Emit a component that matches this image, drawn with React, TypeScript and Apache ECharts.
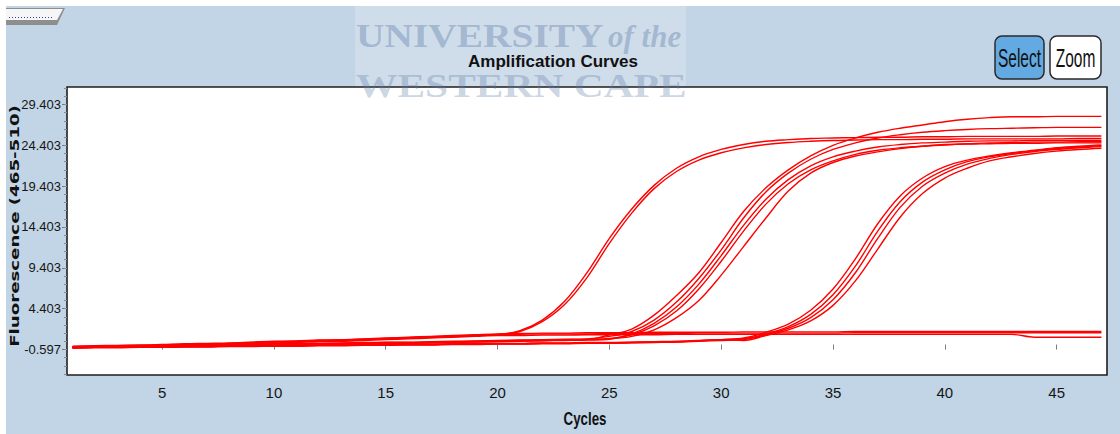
import React, { useEffect, useRef } from "react";
import * as echarts from "echarts";

// ---------- data ----------
const cycles = [1, 2, 3, 4, 5, 6, 7, 8, 9, 10, 11, 12, 13, 14, 15, 16, 17, 18, 19, 20, 21, 22, 23, 24, 25, 26, 27, 28, 29, 30, 31, 32, 33, 34, 35, 36, 37, 38, 39, 40, 41, 42, 43, 44, 45, 46, 47];
const xTickValues = [5, 10, 15, 20, 25, 30, 35, 40, 45];
const yTickValues = [-0.597, 4.403, 9.403, 14.403, 19.403, 24.403, 29.403];

// Group A (earliest)
const curveA1 = [-0.3, -0.25, -0.2, -0.15, -0.1, 0.0, 0.05, 0.1, 0.2, 0.3, 0.35, 0.45, 0.5, 0.6, 0.7, 0.8, 0.9, 1.0, 1.1, 1.2,
  1.7, 3.0, 5.3, 8.8, 13.0, 16.6, 19.5, 21.6, 23.0, 23.9, 24.5, 24.9, 25.1, 25.25, 25.3, 25.35, 25.4, 25.4, 25.45, 25.45, 25.5, 25.5, 25.5, 25.5, 25.55, 25.55, 25.55];
const curveA2 = [-0.25, -0.2, -0.15, -0.1, -0.05, 0.05, 0.1, 0.15, 0.25, 0.35, 0.4, 0.5, 0.55, 0.65, 0.75, 0.85, 0.95, 1.05, 1.15, 1.25,
  1.6, 2.8, 4.9, 8.2, 12.4, 16.1, 19.1, 21.2, 22.6, 23.5, 24.1, 24.5, 24.75, 24.9, 25.0, 25.05, 25.1, 25.1, 25.15, 25.15, 25.2, 25.2, 25.2, 25.2, 25.2, 25.25, 25.25];

// Group B (middle)
const curveB1 = [-0.35, -0.3, -0.3, -0.25, -0.2, -0.2, -0.15, -0.1, -0.05, 0.0, 0.0, 0.05, 0.1, 0.15, 0.2, 0.2, 0.25, 0.3, 0.35, 0.4, 0.45, 0.5, 0.55, 0.6,
  1.2, 1.9, 3.6, 6.0, 8.8, 12.5, 16.3, 19.2, 21.4, 23.1, 24.4, 25.3, 26.0, 26.5, 26.9, 27.3, 27.6, 27.8, 27.9, 27.9, 27.95, 27.95, 27.95];
const curveB2 = [-0.25, -0.2, -0.2, -0.15, -0.1, -0.1, -0.05, 0.0, 0.05, 0.1, 0.1, 0.15, 0.2, 0.25, 0.3, 0.3, 0.35, 0.4, 0.45, 0.5, 0.55, 0.6, 0.65, 0.7,
  1.0, 1.6, 3.0, 5.2, 8.1, 11.6, 15.5, 18.7, 21.0, 22.7, 23.9, 24.7, 25.3, 25.7, 26.0, 26.2, 26.35, 26.45, 26.5, 26.55, 26.6, 26.6, 26.6];
const curveB3 = [-0.4, -0.35, -0.35, -0.3, -0.25, -0.25, -0.2, -0.15, -0.1, -0.05, -0.05, 0.0, 0.05, 0.1, 0.15, 0.15, 0.2, 0.25, 0.3, 0.35, 0.4, 0.45, 0.5, 0.55, 0.65,
  1.3, 2.6, 4.6, 7.4, 10.9, 14.6, 17.8, 20.2, 21.9, 23.0, 23.7, 24.2, 24.5, 24.7, 24.8, 24.9, 24.95, 24.95, 25.0, 25.0, 25.0, 25.0];
const curveB4 = [-0.3, -0.25, -0.25, -0.2, -0.15, -0.15, -0.1, -0.05, 0.0, 0.05, 0.05, 0.1, 0.15, 0.2, 0.25, 0.25, 0.3, 0.35, 0.4, 0.45, 0.5, 0.55, 0.6, 0.65, 0.75,
  1.2, 2.3, 4.1, 6.8, 10.2, 13.9, 17.2, 19.7, 21.4, 22.5, 23.3, 23.8, 24.1, 24.3, 24.45, 24.55, 24.6, 24.65, 24.65, 24.7, 24.7, 24.7];
const curveB5 = [-0.35, -0.3, -0.3, -0.25, -0.2, -0.2, -0.15, -0.1, -0.05, 0.0, 0.0, 0.05, 0.1, 0.15, 0.2, 0.2, 0.25, 0.3, 0.35, 0.4, 0.45, 0.5, 0.55, 0.6, 0.7,
  1.0, 1.8, 3.3, 5.4, 8.5, 12.0, 15.5, 18.8, 21.0, 22.3, 23.1, 23.6, 24.0, 24.3, 24.5, 24.6, 24.7, 24.75, 24.8, 24.8, 24.85, 24.85];

// Group C (latest)
const curveC1 = [-0.4, -0.35, -0.35, -0.3, -0.3, -0.25, -0.25, -0.2, -0.2, -0.15, -0.15, -0.1, -0.1, -0.05, -0.05, 0.0, 0.0, 0.05, 0.05, 0.1, 0.1, 0.15, 0.15, 0.2, 0.2, 0.25, 0.3, 0.35, 0.45, 0.6,
  0.8, 1.5, 2.5, 4.2, 6.8, 10.5, 14.8, 18.2, 20.4, 21.8, 22.6, 23.1, 23.5, 23.8, 24.1, 24.3, 24.45];
const curveC2 = [-0.35, -0.3, -0.3, -0.25, -0.25, -0.2, -0.2, -0.15, -0.15, -0.1, -0.1, -0.05, -0.05, 0.0, 0.0, 0.05, 0.05, 0.1, 0.1, 0.15, 0.15, 0.2, 0.2, 0.25, 0.25, 0.3, 0.35, 0.4, 0.5, 0.6,
  0.7, 1.3, 2.2, 3.7, 6.1, 9.6, 13.9, 17.5, 19.9, 21.4, 22.4, 23.0, 23.4, 23.75, 24.0, 24.2, 24.35];
const curveC3 = [-0.45, -0.4, -0.4, -0.35, -0.35, -0.3, -0.3, -0.25, -0.25, -0.2, -0.2, -0.15, -0.15, -0.1, -0.1, -0.05, -0.05, 0.0, 0.0, 0.05, 0.05, 0.1, 0.1, 0.15, 0.15, 0.2, 0.25, 0.3, 0.4, 0.5,
  0.6, 1.2, 2.0, 3.3, 5.5, 8.8, 13.0, 16.8, 19.4, 21.0, 22.1, 22.8, 23.3, 23.65, 23.9, 24.1, 24.25];
const curveC4 = [-0.4, -0.35, -0.35, -0.3, -0.3, -0.25, -0.25, -0.2, -0.2, -0.15, -0.15, -0.1, -0.1, -0.05, -0.05, 0.0, 0.0, 0.05, 0.05, 0.1, 0.1, 0.15, 0.15, 0.2, 0.2, 0.25, 0.3, 0.35, 0.45, 0.6,
  0.5, 1.1, 1.8, 2.9, 4.8, 7.8, 11.7, 15.6, 18.5, 20.4, 21.6, 22.5, 23.0, 23.4, 23.7, 23.9, 24.05];

// Flat (no amplification)
const curveF1 = [-0.2, -0.15, -0.1, -0.05, 0.0, 0.1, 0.15, 0.2, 0.3, 0.4, 0.45, 0.55, 0.6, 0.7, 0.8, 0.9, 1.0, 1.1, 1.2, 1.3,
  1.35, 1.4, 1.4, 1.45, 1.45, 1.45, 1.5, 1.5, 1.5, 1.5, 1.55, 1.55, 1.55, 1.55, 1.55, 1.6, 1.6, 1.6, 1.6, 1.6, 1.6, 1.6, 1.6, 1.6, 1.6, 1.6, 1.6];
const curveF2 = [-0.3, -0.25, -0.2, -0.15, -0.1, 0.0, 0.05, 0.1, 0.2, 0.3, 0.35, 0.45, 0.5, 0.6, 0.7, 0.8, 0.9, 1.0, 1.1, 1.2,
  1.25, 1.3, 1.3, 1.3, 1.35, 1.35, 1.35, 1.35, 1.4, 1.4, 1.4, 1.4, 1.4, 1.4, 1.4, 1.45, 1.45, 1.45, 1.45, 1.45, 1.45, 1.45, 1.45, 1.45, 1.45, 1.45, 1.45];
const curveF3 = [-0.4, -0.35, -0.3, -0.25, -0.2, -0.1, -0.05, 0.0, 0.1, 0.2, 0.25, 0.35, 0.4, 0.5, 0.6, 0.7, 0.8, 0.9, 1.0, 1.1,
  1.1, 1.15, 1.15, 1.2, 1.2, 1.2, 1.2, 1.25, 1.25, 1.25, 1.25, 1.25, 1.25, 1.25, 1.25, 1.25, 1.25, 1.25, 1.25, 1.25, 1.25, 1.25, 1.25, 0.9, 0.9, 0.9, 0.9];

const curves = [curveF1, curveF2, curveF3, curveC1, curveC2, curveC3, curveC4, curveB5, curveB4, curveB3, curveB2, curveB1, curveA2, curveA1];

const X_MIN = 0.75;
const X_MAX = 47.25;
const Y_MIN = -3.73;
const Y_MAX = 31.55;

const SANS = '"Liberation Sans", Arial, sans-serif';
const SERIF = '"Liberation Serif", "Times New Roman", serif';
const WM = "#5f7ca8";

export default function App() {
  const ref = useRef<HTMLDivElement>(null);

  useEffect(() => {
    document.body.style.margin = "0";
    if (!ref.current) return;
    const chart = echarts.init(ref.current, null, { renderer: "svg" });

    const minorTicks: number[] = [];
    for (let k = -4; k <= 33; k++) {
      const v = Number((yTickValues[0] + k).toFixed(3));
      if (v > Y_MIN && v < Y_MAX) minorTicks.push(v);
    }

    const series = curves.map((d, i) => ({
      type: "line",
      name: "s" + i,
      data: cycles.map((c, j) => [c, d[j]]),
      showSymbol: false,
      symbol: "none",
      smooth: 0.35,
      clip: true,
      silent: true,
      lineStyle: { color: "#ff0000", width: 1.4 },
      xAxisIndex: 0,
      yAxisIndex: 0,
    }));

    chart.setOption({
      animation: false,
      grid: {
        left: 67,
        top: 87,
        width: 1040,
        height: 288,
        show: true,
        backgroundColor: "#ffffff",
        borderColor: "#1e1e1e",
        borderWidth: 1.6,
        containLabel: false,
      },
      xAxis: {
        type: "value",
        min: X_MIN,
        max: X_MAX,
        axisLine: { show: false },
        splitLine: { show: false },
        axisTick: {
          show: true,
          customValues: xTickValues,
          length: 5,
          lineStyle: { color: "#7a7a7a", width: 1 },
        },
        axisLabel: {
          customValues: xTickValues,
          fontFamily: SANS,
          fontSize: 15,
          color: "#151515",
          margin: 10,
        },
      },
      yAxis: [
        {
          type: "value",
          min: Y_MIN,
          max: Y_MAX,
          axisLine: { show: false },
          splitLine: { show: false },
          axisTick: {
            show: true,
            customValues: yTickValues,
            length: 5,
            lineStyle: { color: "#7a7a7a", width: 1 },
          },
          axisLabel: {
            customValues: yTickValues,
            formatter: (v: number) => v.toFixed(3),
            fontFamily: SANS,
            fontSize: 13,
            color: "#151515",
            margin: 6,
          },
        },
        {
          type: "value",
          position: "left",
          min: Y_MIN,
          max: Y_MAX,
          axisLine: { show: false },
          splitLine: { show: false },
          axisLabel: { show: false },
          axisTick: {
            show: true,
            customValues: minorTicks,
            length: 3,
            lineStyle: { color: "#8a8a8a", width: 1 },
          },
        },
      ],
      graphic: [
        // panel background
        { type: "rect", z: -3, silent: true, shape: { x: 6, y: 6, width: 1114, height: 428 }, style: { fill: "#c2d5e6" } },
        // watermark lighter box
        { type: "rect", z: -2, silent: true, shape: { x: 355, y: 6, width: 331, height: 82 }, style: { fill: "#cfdcea" } },
        // tab top-left
        { type: "polygon", z: 5, silent: true, shape: { points: [[6, 8], [65, 8], [57, 25], [6, 25]] }, style: { fill: "#8e8e8e" } },
        { type: "polygon", z: 6, silent: true, shape: { points: [[6, 9], [63, 9], [57, 20], [6, 20]] }, style: { fill: "#f6f6f6" } },
        { type: "line", z: 7, silent: true, shape: { x1: 9, y1: 17.5, x2: 53, y2: 17.5 }, style: { stroke: "#3a3fa8", lineWidth: 1, lineDash: [1, 2] } },
        // watermark texts
        {
          type: "text", z: 20, silent: true, x: 356, y: 52, scaleX: 1.16,
          style: { text: "UNIVERSITY", fill: WM, opacity: 0.4, font: "bold 34px " + SERIF, textAlign: "left", textVerticalAlign: "bottom" },
        },
        {
          type: "text", z: 20, silent: true, x: 608, y: 52, scaleX: 1.0,
          style: { text: "of the", fill: WM, opacity: 0.4, font: "bold italic 31px " + SERIF, textAlign: "left", textVerticalAlign: "bottom" },
        },
        {
          type: "text", z: 20, silent: true, x: 356, y: 102, scaleX: 1.22,
          style: { text: "WESTERN CAPE", fill: WM, opacity: 0.32, font: "bold 34px " + SERIF, textAlign: "left", textVerticalAlign: "bottom" },
        },
        // title
        {
          type: "text", z: 30, silent: true, x: 553, y: 61,
          style: { text: "Amplification Curves", fill: "#111111", font: "bold 17px " + SANS, textAlign: "center", textVerticalAlign: "middle" },
        },
        // buttons
        { type: "rect", z: 30, silent: true, shape: { x: 995, y: 36, width: 49, height: 43, r: 7 }, style: { fill: "#63a9e2", stroke: "#2a2a2a", lineWidth: 1.5 } },
        {
          type: "text", z: 31, silent: true, x: 1019.5, y: 58, scaleX: 0.62,
          style: { text: "Select", fill: "#111111", font: "25px " + SANS, textAlign: "center", textVerticalAlign: "middle" },
        },
        { type: "rect", z: 30, silent: true, shape: { x: 1050, y: 36, width: 51, height: 43, r: 7 }, style: { fill: "#ffffff", stroke: "#2a2a2a", lineWidth: 1.5 } },
        {
          type: "text", z: 31, silent: true, x: 1075.5, y: 58, scaleX: 0.62,
          style: { text: "Zoom", fill: "#111111", font: "25px " + SANS, textAlign: "center", textVerticalAlign: "middle" },
        },
        // axis names
        {
          type: "text", z: 30, silent: true, x: 585, y: 419, scaleX: 0.74,
          style: { text: "Cycles", fill: "#111111", font: "bold 18px " + SANS, textAlign: "center", textVerticalAlign: "middle" },
        },
        {
          type: "text", z: 30, silent: true, x: 14, y: 226, rotation: Math.PI / 2, scaleX: 1.4,
          style: { text: "Fluorescence (465-510)", fill: "#111111", font: 'bold 13px "DejaVu Sans", sans-serif', textAlign: "center", textVerticalAlign: "middle" },
        },
      ],
      series,
    });

    return () => {
      chart.dispose();
    };
  }, []);

  return <div ref={ref} style={{ width: 1120, height: 434 }} />;
}
